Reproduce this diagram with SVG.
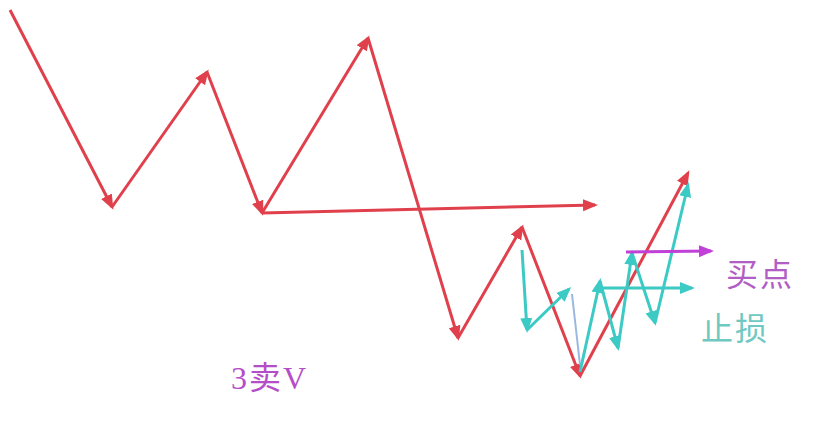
<svg xmlns="http://www.w3.org/2000/svg" width="814" height="432" viewBox="0 0 814 432">
<defs>
<marker id="ar" viewBox="0 0 10 10" refX="8" refY="5" markerWidth="5" markerHeight="5" orient="auto" markerUnits="strokeWidth"><path d="M0,1 L10,5 L0,9 Z" fill="#e0404c"/></marker>
<marker id="ac" viewBox="0 0 10 10" refX="8" refY="5" markerWidth="5" markerHeight="5" orient="auto" markerUnits="strokeWidth"><path d="M0,1 L10,5 L0,9 Z" fill="#3ccac4"/></marker>
<marker id="am" viewBox="0 0 10 10" refX="8" refY="5" markerWidth="5" markerHeight="5" orient="auto" markerUnits="strokeWidth"><path d="M0,1 L10,5 L0,9 Z" fill="#c040d8"/></marker>
</defs>
<style>
.r{stroke:#e0404c;stroke-width:3;fill:none;marker-end:url(#ar)}
.c{stroke:#3ccac4;stroke-width:3;fill:none;marker-end:url(#ac)}
.m{stroke:#c040d8;stroke-width:3;fill:none;marker-end:url(#am)}
.lb{font-family:"Noto Sans CJK SC","Liberation Serif",serif;font-size:32px;letter-spacing:2px}
</style>
<rect width="814" height="432" fill="#ffffff"/>
<g id="connectors">
<line class="r" x1="10" y1="10" x2="112" y2="207"/>
<line class="r" x1="112" y1="207" x2="207" y2="72"/>
<line class="r" x1="207" y1="72" x2="262" y2="213"/>
<line class="r" x1="262" y1="213" x2="368" y2="38"/>
<line class="r" x1="368" y1="38" x2="458" y2="338"/>
<line class="r" x1="458" y1="338" x2="522" y2="227"/>
<line class="r" x1="522" y1="227" x2="580" y2="376"/>
<line class="r" x1="580" y1="376" x2="688" y2="173"/>
<line class="r" x1="262" y1="213" x2="595" y2="205"/>
<line class="c" x1="522" y1="250" x2="527" y2="330"/>
<line class="c" x1="527" y1="330" x2="569" y2="289"/>
<line x1="572" y1="294" x2="580" y2="365" stroke="#9ab8e0" stroke-width="2"/>
<line class="c" x1="580" y1="372" x2="600" y2="281"/>
<line class="c" x1="600" y1="281" x2="618" y2="348"/>
<line class="c" x1="618" y1="348" x2="632" y2="253"/>
<line class="c" x1="632" y1="253" x2="655" y2="323"/>
<line class="c" x1="655" y1="323" x2="688" y2="185"/>
<line class="c" x1="600" y1="288" x2="692" y2="288"/>
<line class="m" x1="626" y1="252" x2="711" y2="251"/>
</g>
<g id="label-buy"><text class="lb" x="726" y="286" fill="#b060c4">买点</text></g>
<g id="label-stop"><text class="lb" x="701" y="340" fill="#70c8c2">止损</text></g>
<g id="label-3sell"><text class="lb" x="231" y="389" fill="#b44ec8" letter-spacing="0"><tspan font-family="Liberation Serif">3</tspan>卖<tspan font-family="Liberation Serif">V</tspan></text></g>
</svg>
